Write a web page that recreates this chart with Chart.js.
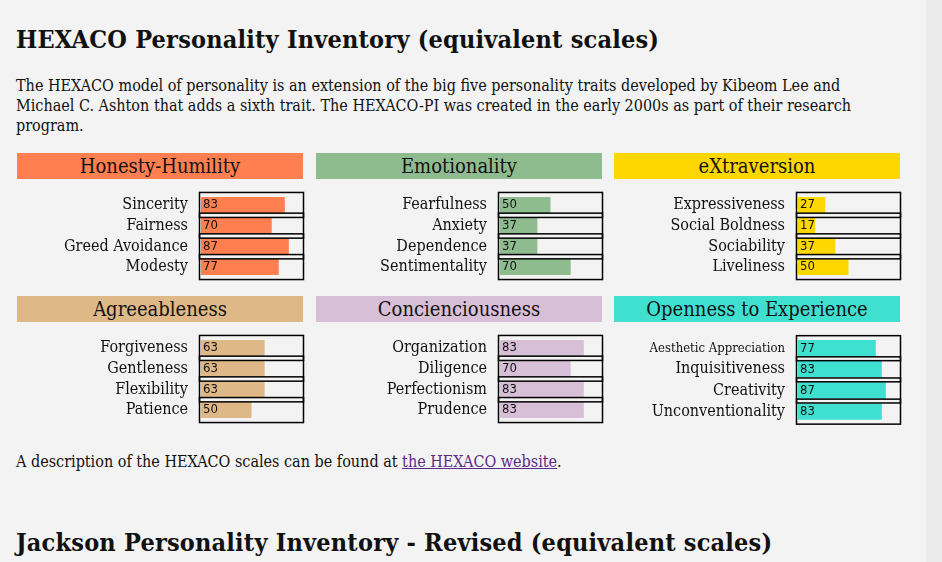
<!DOCTYPE html>
<html><head><meta charset="utf-8">
<script src="https://cdn.jsdelivr.net/npm/chart.js@4/dist/chart.umd.min.js"></script>
<style>
body{margin:0;background:#f3f3f3;font-family:"DejaVu Serif Condensed","DejaVu Serif",serif;color:#111;width:942px;height:562px;overflow:hidden;position:relative}
.abs{position:absolute}
h2{position:absolute;left:16px;top:25px;margin:0;font-size:25px;font-weight:bold;letter-spacing:0.2px}
p{position:absolute;left:16px;margin:0;font-size:16px;line-height:20px;width:880px}
.hd{position:absolute;height:26px;width:286px;text-align:center;font-size:20px;line-height:27px}
a{color:#5b2a86}
#sb{position:absolute;left:926px;top:0;width:16px;height:562px;background:#ebebeb}
#th{position:absolute;left:931px;top:408px;width:6px;height:104px;background:#6e6e6e;border-radius:3px}
</style></head><body>
<h2>HEXACO Personality Inventory (equivalent scales)</h2>
<p style="top:76px">The HEXACO model of personality is an extension of the big five personality traits developed by Kibeom Lee and Michael C. Ashton that adds a sixth trait. The HEXACO-PI was created in the early 2000s as part of their research program.</p>
<div id="wrap"></div>
<p style="top:452px">A description of the HEXACO scales can be found at <a href="#">the HEXACO website</a>.</p>
<h2 style="top:528px">Jackson Personality Inventory - Revised (equivalent scales)</h2>
<div id="sb"><div id="th"></div></div>
<script>
const titles=["Honesty-Humility","Emotionality","eXtraversion","Agreeableness","Concienciousness","Openness to Experience"];
const colors=["#ff7f50","#8fbc8f","#ffd700","#deb887","#d8bfd8","#40e0d0"];
const labelsH=["Sincerity","Fairness","Greed Avoidance","Modesty"];
const valuesH=[83,70,87,77];
const labelsE=["Fearfulness","Anxiety","Dependence","Sentimentality"];
const valuesE=[50,37,37,70];
const labelsX=["Expressiveness","Social Boldness","Sociability","Liveliness"];
const valuesX=[27,17,37,50];
const labelsA=["Forgiveness","Gentleness","Flexibility","Patience"];
const valuesA=[63,63,63,50];
const labelsC=["Organization","Diligence","Perfectionism","Prudence"];
const valuesC=[83,70,83,83];
const labelsO=["Aesthetic Appreciation","Inquisitiveness","Creativity","Unconventionality"];
const valuesO=[77,83,87,83];
const allLabels=[labelsH,labelsE,labelsX,labelsA,labelsC,labelsO];
const allValues=[valuesH,valuesE,valuesX,valuesA,valuesC,valuesO];
const lefts=[17,316,614], tops=[153,296];
const wrap=document.getElementById('wrap');
const boxPlugin={id:'boxes',
 afterDatasetsDraw(c){const ctx=c.ctx,y=c.scales.y,x=c.scales.x;ctx.save();
  ctx.strokeStyle='#000';ctx.lineWidth=1.5;
  const ds=c.data.datasets[0].data;
  ds.forEach((v,i)=>{const cy=y.getPixelForValue(i);
    ctx.strokeRect(x.left-1.5,cy-12.5,x.right-x.left+3,25);
    ctx.fillStyle='#111';ctx.font='13px "DejaVu Sans Condensed","DejaVu Sans",sans-serif';
    ctx.textBaseline='middle';ctx.fillText(v,x.left+2,cy);});
  ctx.restore();}};
for(let k=0;k<6;k++){
 const L=lefts[k%3],T=tops[Math.floor(k/3)];
 const h=document.createElement('div');h.className='hd';h.style.left=L+'px';h.style.top=T+'px';
 h.style.background=colors[k];h.textContent=titles[k];wrap.appendChild(h);
 const cv=document.createElement('canvas');cv.className='abs';cv.style.left=L+'px';cv.style.top=(T+27)+'px';
 cv.width=288;cv.height=112;cv.style.width='288px';cv.style.height='112px';wrap.appendChild(cv);
 new Chart(cv,{type:'bar',data:{labels:allLabels[k],datasets:[{data:allValues[k],backgroundColor:colors[k],
   barPercentage:0.78,categoryPercentage:1}]},
  options:{indexAxis:'y',responsive:false,animation:false,devicePixelRatio:1,
   layout:{padding:{left:0,right:3,top:0,bottom:0}},
   plugins:{legend:{display:false},tooltip:{enabled:false}},
   scales:{x:{display:false,min:0,max:100},
    y:{grid:{display:false},border:{display:false},afterFit(s){s.width=184;},
     ticks:{color:'#111',padding:5,font:(c)=>({family:'"DejaVu Serif Condensed","DejaVu Serif",serif',size:(k==5&&c.index==0)?13:16})}}}},
  plugins:[boxPlugin]});
}
</script>
</body></html>
